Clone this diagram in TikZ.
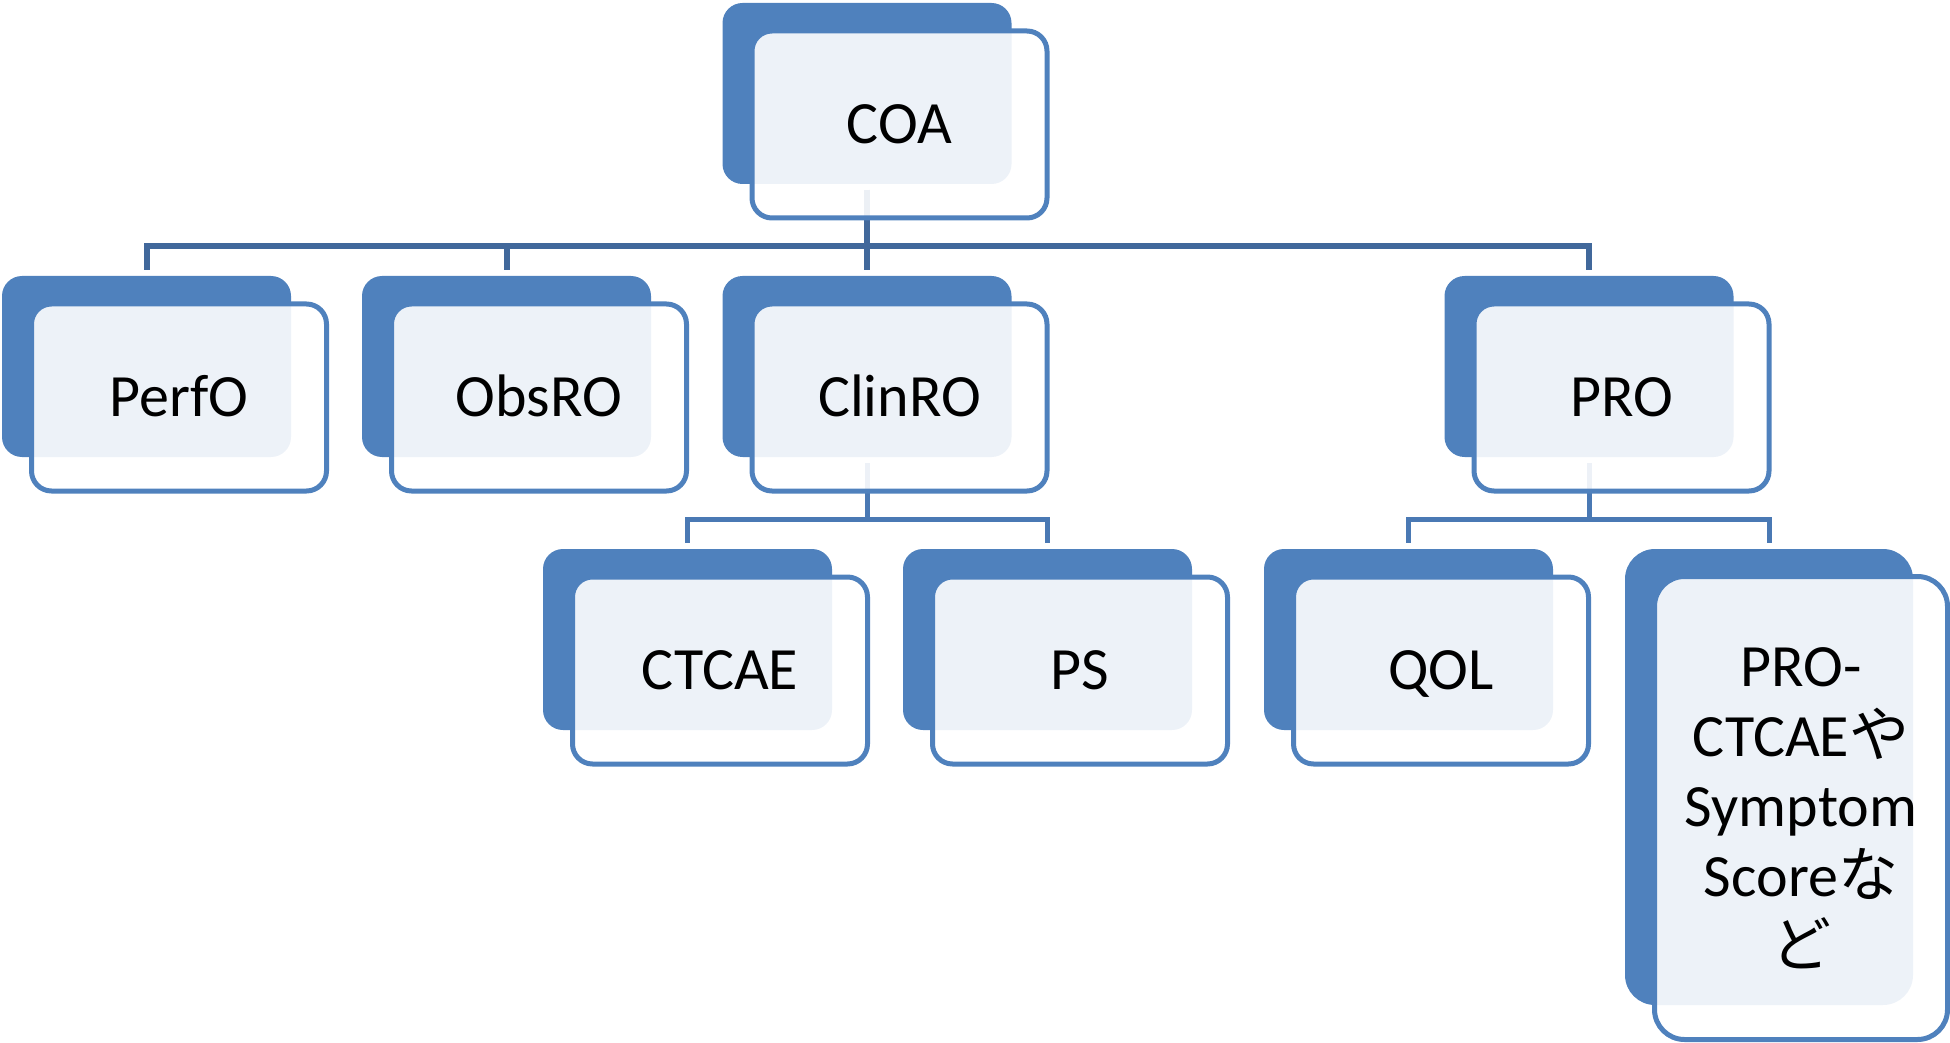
\documentclass[tikz,border=0pt]{standalone}
\usepackage{fontspec}
\usetikzlibrary{backgrounds}
\setmainfont{Carlito}
\newfontfamily\jp{Noto Sans CJK JP}
\definecolor{boxblue}{RGB}{79,129,189}
\definecolor{linkdark}{RGB}{65,104,155}
\definecolor{linkmid}{RGB}{74,121,180}
\tikzset{
  backbox/.style={rectangle, rounded corners=10pt, fill=boxblue, draw=none,
    minimum width=144.5pt, minimum height=90.5pt, inner sep=0pt, outer sep=0pt},
  frontbox/.style={rectangle, rounded corners=10pt, draw=boxblue, line width=2.5pt,
    fill=white, fill opacity=0.9, text opacity=1,
    minimum width=147.5pt, minimum height=93.5pt, inner sep=0pt, outer sep=0pt,
    font=\fontsize{30pt}{35pt}\selectfont, text height=19.3pt, text depth=0pt},
  link1/.style={draw=linkdark, line width=3pt},
  link2/.style={draw=linkmid, line width=2.5pt}
}
% a card: filled back panel (#1) with an outlined, translucent front panel (#1-f)
\newcommand{\card}[4]{%
  \node[backbox] (#1) at (#2,#3) {};
  \node[frontbox] (#1-f) at (#2+32.5,#3+31) {#4};
}
\begin{document}
\begin{tikzpicture}[x=0.5pt,y=-0.5pt]
\useasboundingbox (0,0) rectangle (1950,1043);

\coordinate (lvl1) at (0,246);
\coordinate (lvl2) at (0,519);

\card{coa}{867}{93.5}{COA}
\card{perfo}{146.5}{366.5}{PerfO}
\card{obsro}{506.5}{366.5}{ObsRO}
\card{clinro}{867}{366.5}{ClinRO}
\card{pro}{1589}{366.5}{PRO}
\card{ctcae}{687.5}{639.5}{CTCAE}
\card{ps}{1047.5}{639.5}{PS}
\card{qol}{1408.5}{639.5}{QOL}

\node[backbox, rounded corners=15pt, minimum width=144pt, minimum height=228pt] (proc) at (1769,777) {};
\node[frontbox, rounded corners=15pt, minimum width=146.5pt, minimum height=231.5pt,
      align=center, text height=, text depth=] (proc-f) at (1801,808)
  {PRO-\\CTCAE{\jp や}\\Symptom\\Score{\jp な}\\{\jp ど}};

% elbow connectors, kept behind the cards
\begin{scope}[on background layer]
\foreach \c in {perfo,obsro,clinro,pro}
  \draw[link1] ([yshift=-3pt]coa.south) -- (coa.south |- lvl1) -| ([yshift=3pt]\c.north);
\foreach \c in {ctcae,ps}
  \draw[link2] ([yshift=-3pt]clinro.south) -- (clinro.south |- lvl2) -| ([yshift=3pt]\c.north);
\foreach \c in {qol,proc}
  \draw[link2] ([yshift=-3pt]pro.south) -- (pro.south |- lvl2) -| ([yshift=3pt]\c.north);
\end{scope}
\end{tikzpicture}
\end{document}
